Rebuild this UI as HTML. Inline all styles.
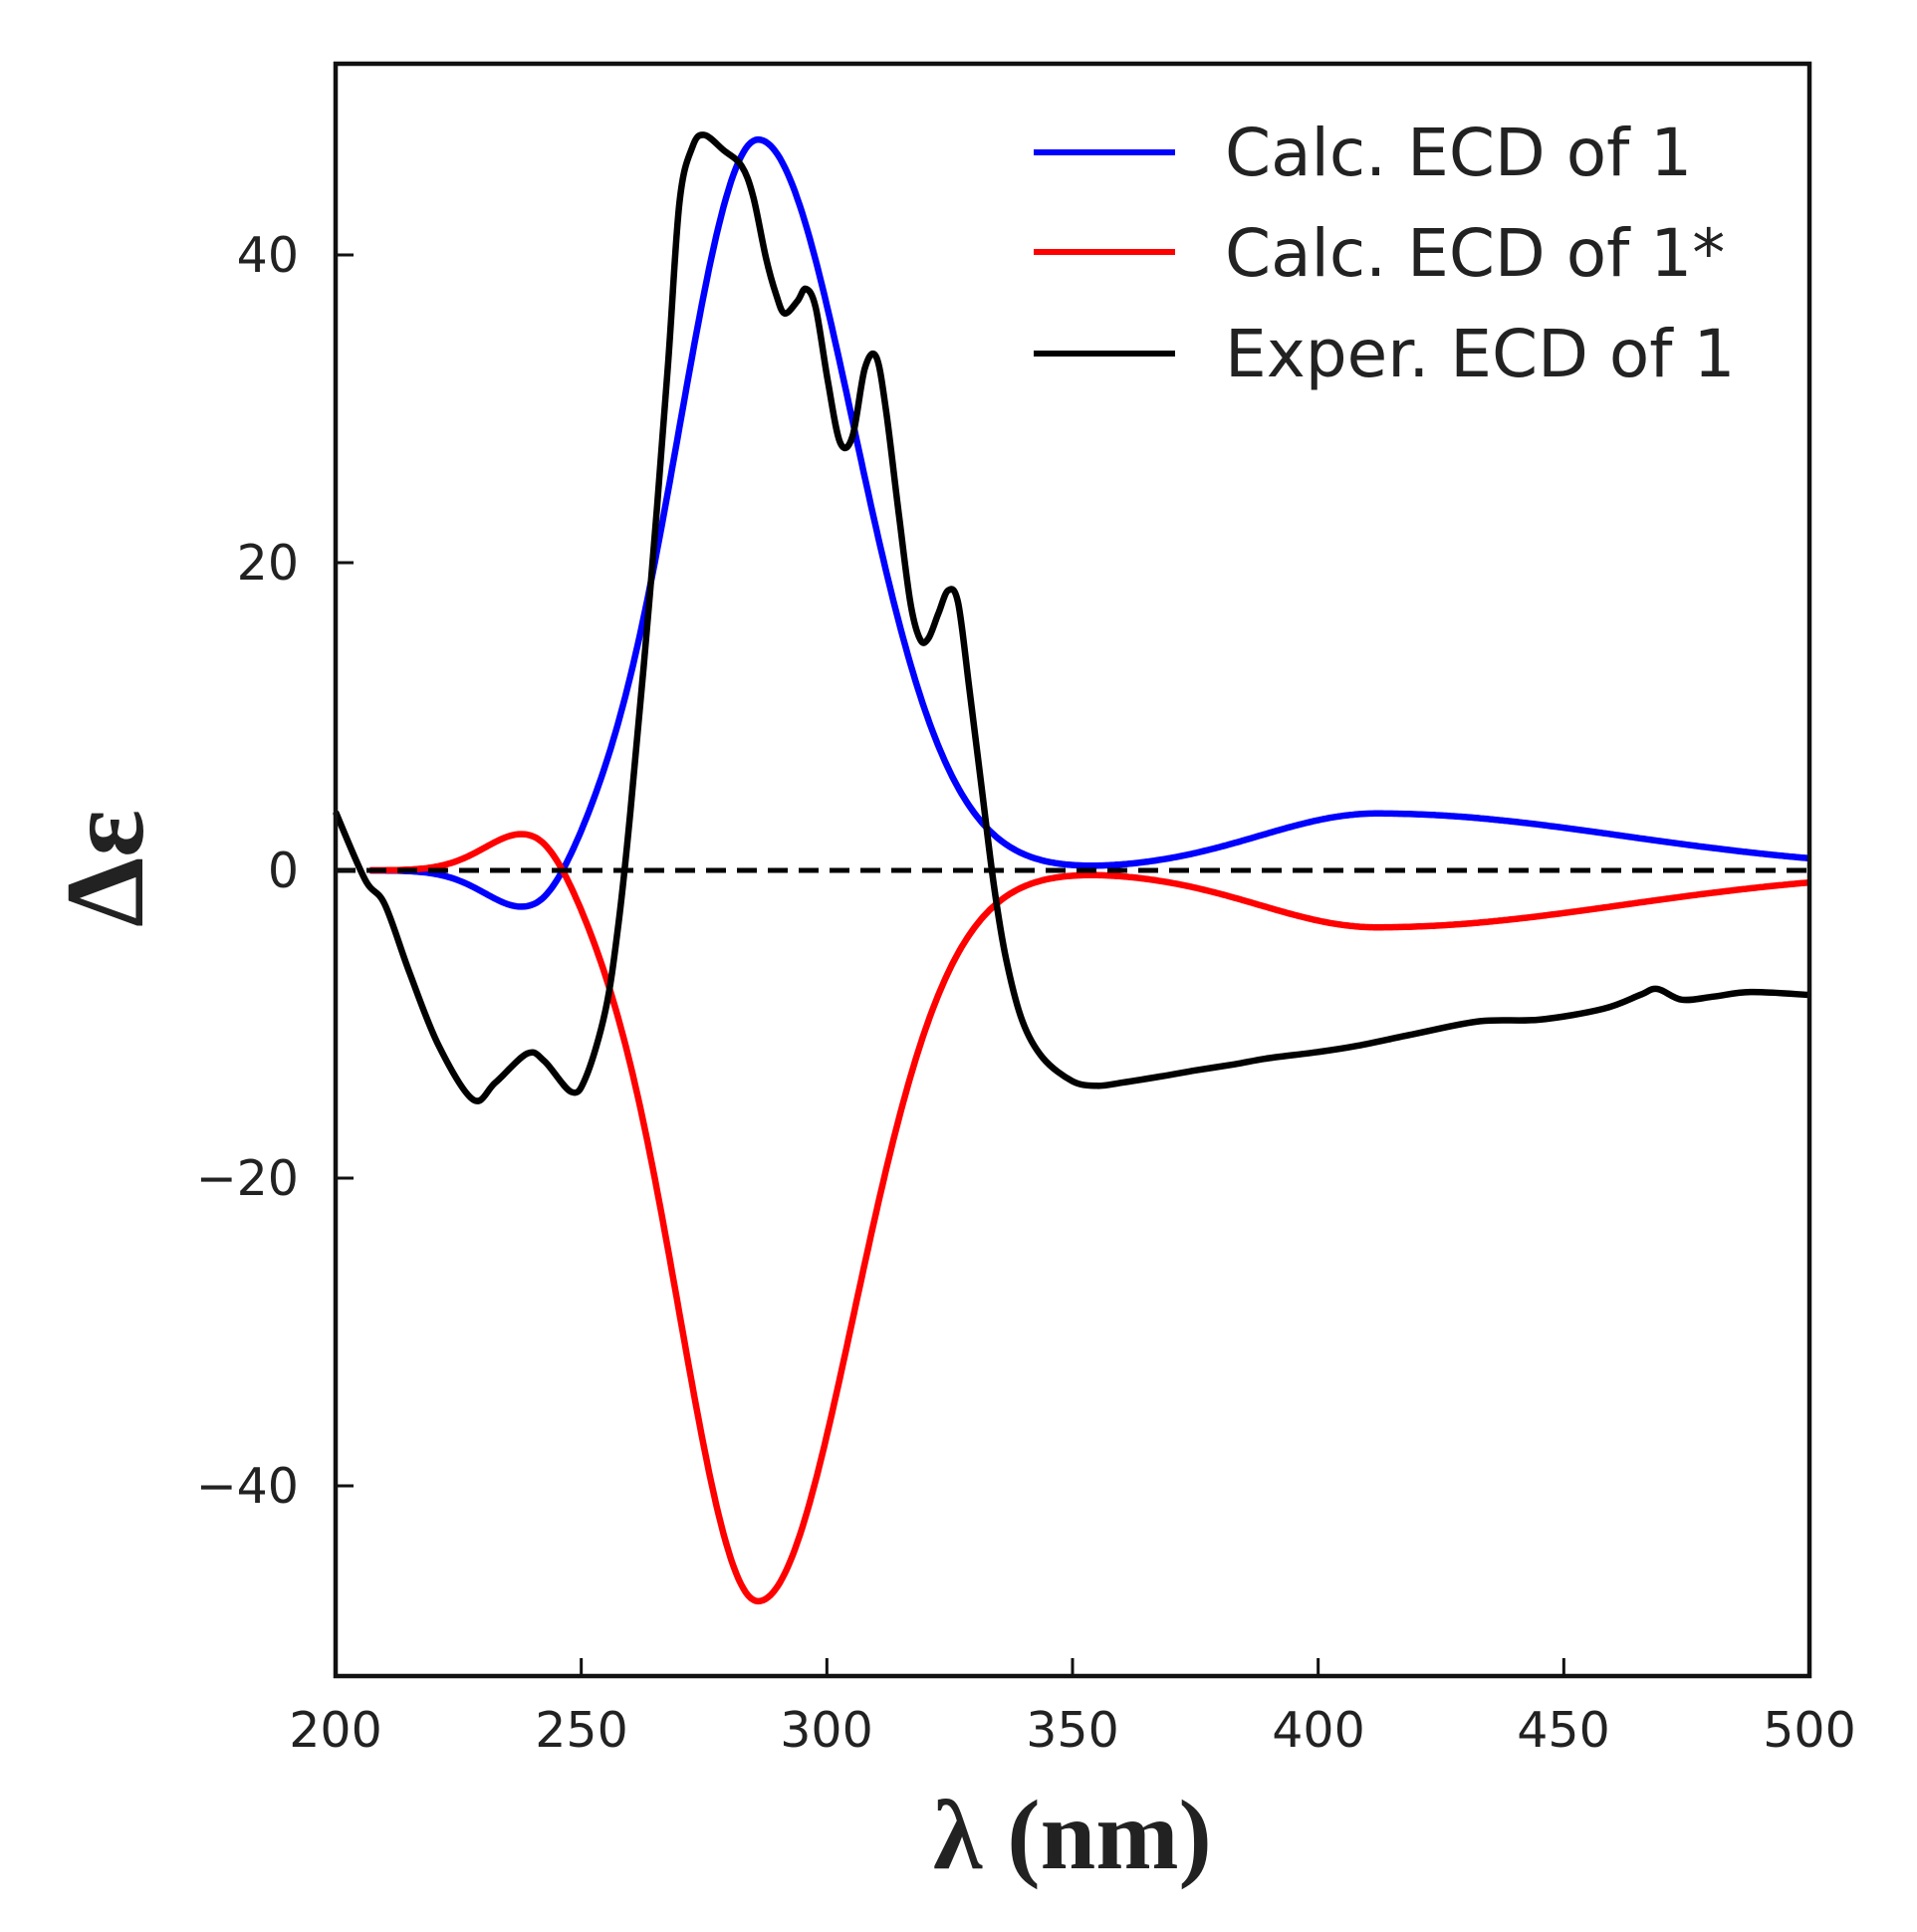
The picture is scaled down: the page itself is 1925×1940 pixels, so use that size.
<!DOCTYPE html>
<html><head><meta charset="utf-8"><style>html,body{margin:0;padding:0;background:#fff}svg{display:block}</style></head>
<body>
<svg id="s" width="1925" height="1940" viewBox="0 0 1925 1940" xmlns="http://www.w3.org/2000/svg">
<rect width="1925" height="1940" fill="#fff"/>
<g id="curves" fill="none" stroke-width="6.5" stroke-linejoin="round"></g>
<line x1="337" y1="874" x2="1817" y2="874" stroke="#000" stroke-width="5" stroke-dasharray="20,11"/>
<rect x="337" y="64" width="1480" height="1619" fill="none" stroke="#111" stroke-width="4.5"/>
<g id="ticks" stroke="#111" stroke-width="3"></g>
<g font-family="DejaVu Sans, Liberation Sans, sans-serif" font-size="49" fill="#222">
<text x="300" y="273" text-anchor="end">40</text>
<text x="300" y="582" text-anchor="end">20</text>
<text x="300" y="891" text-anchor="end">0</text>
<text x="300" y="1200" text-anchor="end">−20</text>
<text x="300" y="1509" text-anchor="end">−40</text>
<text x="337" y="1754" text-anchor="middle">200</text>
<text x="584" y="1754" text-anchor="middle">250</text>
<text x="830" y="1754" text-anchor="middle">300</text>
<text x="1077" y="1754" text-anchor="middle">350</text>
<text x="1324" y="1754" text-anchor="middle">400</text>
<text x="1570" y="1754" text-anchor="middle">450</text>
<text x="1817" y="1754" text-anchor="middle">500</text>
</g>
<g font-family="DejaVu Sans, Liberation Sans, sans-serif" font-size="66" fill="#222">
<text x="1230" y="176">Calc. ECD of 1</text>
<text x="1230" y="277">Calc. ECD of 1*</text>
<text x="1230" y="378">Exper. ECD of 1</text>
</g>
<line x1="1038" y1="153" x2="1180" y2="153" stroke="#0000ff" stroke-width="6"/>
<line x1="1038" y1="253" x2="1180" y2="253" stroke="#ff0000" stroke-width="6"/>
<line x1="1038" y1="355" x2="1180" y2="355" stroke="#000" stroke-width="6"/>
<text x="0" y="0" transform="translate(143,872) rotate(-90)" text-anchor="middle" font-family="Liberation Serif, serif" font-weight="bold" font-size="112" fill="#222">Δε</text>
<text x="1077" y="1876" text-anchor="middle" font-family="Liberation Serif, serif" font-weight="bold" font-size="100" fill="#222">λ (nm)</text>
</svg>
<script>
var NS="http://www.w3.org/2000/svg";
function X(n){return 337+(n-200)*1480/300;}
function Y(v){return 874-v*15.45;}
function g(x,m,a,sl,sr){var s=x<m?sl:sr;return a*Math.exp(-(x-m)*(x-m)/(2*s*s));}
function blue(x){return g(x,286,47.5,16,19.5)+g(x,240.5,-3.0,9,7)+g(x,412,3.7,24,50);}
var pb="",pr="";
for(var x=207;x<=500;x+=0.5){var v=blue(x);pb+=(pb?"L":"M")+X(x).toFixed(1)+","+Y(v).toFixed(1);pr+=(pr?"L":"M")+X(x).toFixed(1)+","+Y(-v).toFixed(1);}
var ex=[[200,3.8],[206,-0.6],[210,-2.2],[215,-6.6],[221,-11.4],[228,-14.9],[232.5,-13.8],[239,-11.9],[242.5,-12.4],[248,-14.4],[251,-13.4],[255,-9],[257.6,-3.4],[260,3.8],[264,18],[267.6,32.6],[270,43.4],[272.6,47],[275,47.8],[279,46.8],[282.6,45.8],[285,43.8],[287.6,39.8],[289.7,37.4],[291.4,36.2],[294,37],[295.7,37.8],[297.7,36.6],[300.2,31.8],[302.7,27.8],[305.2,28.2],[307.7,32.6],[310,33.4],[312,30],[314.7,23],[317,17.4],[319,15],[320.7,15.1],[322.7,16.7],[324.7,18.2],[326.7,17.4],[329,11.8],[331.5,5.4],[334,-1],[336.5,-5.8],[339.8,-9.8],[344,-12.2],[350,-13.7],[355,-14],[360,-13.8],[367.8,-13.4],[375,-13],[383,-12.6],[390,-12.2],[400,-11.8],[408,-11.4],[420,-10.6],[433,-9.8],[445,-9.7],[458,-9],[465.5,-8.1],[469,-7.7],[474,-8.4],[480.5,-8.2],[488,-7.9],[500,-8.1]];
var P=ex.map(function(p){return [X(p[0]),Y(p[1])];});
var pe="M"+P[0][0].toFixed(1)+","+P[0][1].toFixed(1);
for(var i=0;i<P.length-1;i++){var p0=P[Math.max(0,i-1)],p1=P[i],p2=P[i+1],p3=P[Math.min(P.length-1,i+2)];
var c1x=p1[0]+(p2[0]-p0[0])/6,c1y=p1[1]+(p2[1]-p0[1])/6,c2x=p2[0]-(p3[0]-p1[0])/6,c2y=p2[1]-(p3[1]-p1[1])/6;
pe+="C"+c1x.toFixed(1)+","+c1y.toFixed(1)+" "+c2x.toFixed(1)+","+c2y.toFixed(1)+" "+p2[0].toFixed(1)+","+p2[1].toFixed(1);}
var c=document.getElementById("curves");
[[pb,"#0000ff"],[pr,"#ff0000"],[pe,"#000"]].forEach(function(a){var p=document.createElementNS(NS,"path");p.setAttribute("d",a[0]);p.setAttribute("stroke",a[1]);c.appendChild(p);});
var t=document.getElementById("ticks");
function ln(a,b,c2,d){var l=document.createElementNS(NS,"line");l.setAttribute("x1",a);l.setAttribute("y1",b);l.setAttribute("x2",c2);l.setAttribute("y2",d);t.appendChild(l);}
[250,300,350,400,450].forEach(function(n){ln(X(n),1683,X(n),1665);});
[40,20,0,-20,-40].forEach(function(v){ln(337,Y(v),355,Y(v));});
</script>
</body></html>
